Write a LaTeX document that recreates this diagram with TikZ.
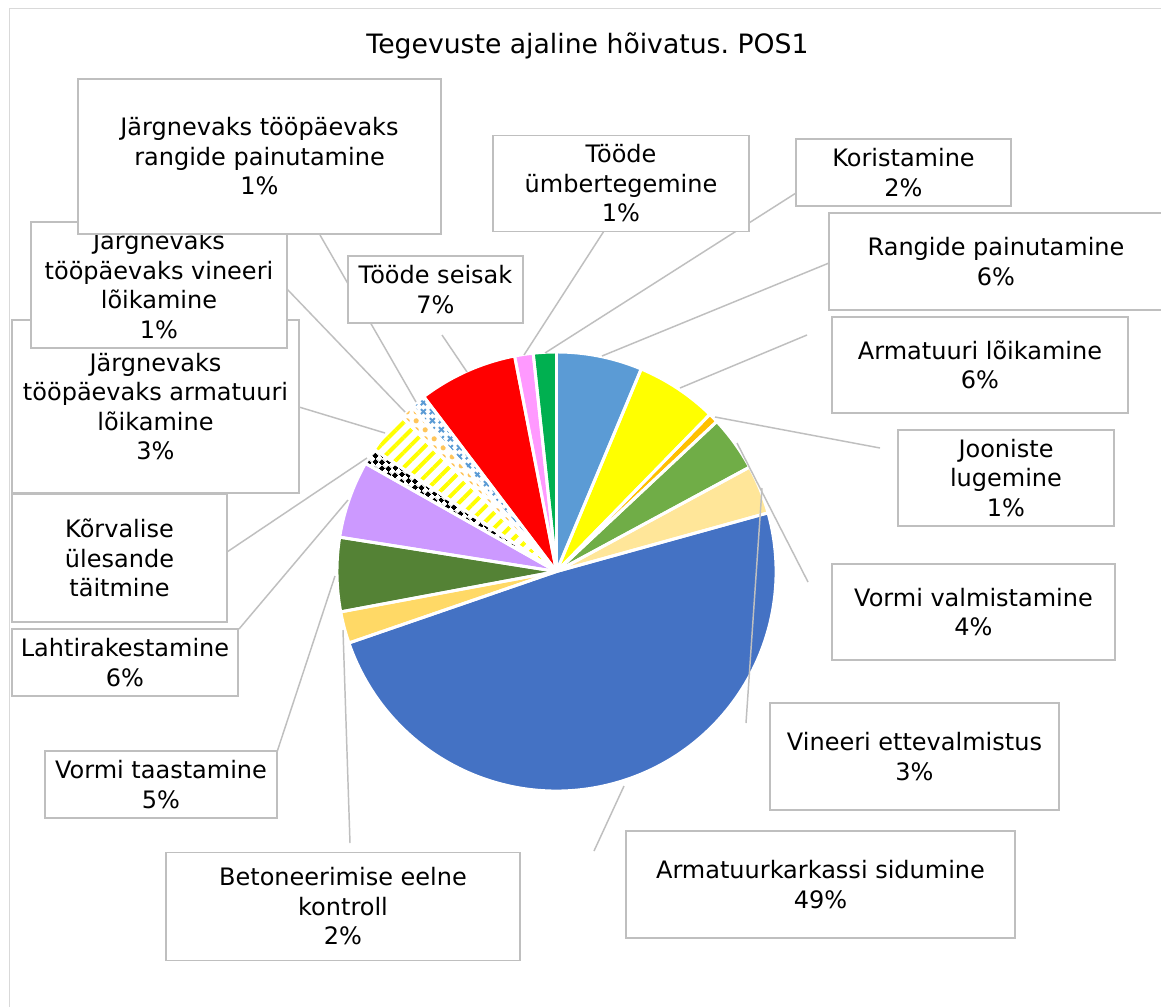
\documentclass[tikz,border=0pt]{standalone}
\usepackage{fontspec}
\setmainfont{DejaVu Sans}
\usetikzlibrary{patterns.meta}
\frenchspacing

\pgfdeclarepattern{
  name=xmarks,
  type=uncolored,
  bottom left={\pgfpoint{0pt}{0pt}},
  top right={\pgfpoint{7pt}{7pt}},
  tile size={\pgfpoint{7pt}{7pt}},
  code={
    \pgfsetlinewidth{1.5pt}
    \pgfpathmoveto{\pgfpoint{1.5pt}{1.5pt}}
    \pgfpathlineto{\pgfpoint{5.5pt}{5.5pt}}
    \pgfpathmoveto{\pgfpoint{1.5pt}{5.5pt}}
    \pgfpathlineto{\pgfpoint{5.5pt}{1.5pt}}
    \pgfusepath{stroke}
  }
}
\pgfdeclarepattern{
  name=diamondcheck,
  type=uncolored,
  bottom left={\pgfpoint{0pt}{0pt}},
  top right={\pgfpoint{7pt}{7pt}},
  tile size={\pgfpoint{7pt}{7pt}},
  tile transformation={\pgftransformrotate{45}},
  code={
    \pgfpathrectangle{\pgfpoint{0pt}{0pt}}{\pgfpoint{3.5pt}{3.5pt}}
    \pgfpathrectangle{\pgfpoint{3.5pt}{3.5pt}}{\pgfpoint{3.5pt}{3.5pt}}
    \pgfusepath{fill}
  }
}

\definecolor{boxgray}{HTML}{BFBFBF}
\definecolor{framegray}{HTML}{D9D9D9}
\definecolor{lblue}{HTML}{5B9BD5}
\definecolor{yel}{HTML}{FFFF00}
\definecolor{ora}{HTML}{FFC000}
\definecolor{grn}{HTML}{70AD47}
\definecolor{lyel}{HTML}{FFE699}
\definecolor{blu}{HTML}{4472C4}
\definecolor{gold}{HTML}{FFD966}
\definecolor{dgrn}{HTML}{548235}
\definecolor{lav}{HTML}{CC99FF}
\definecolor{redc}{HTML}{FF0000}
\definecolor{pinkc}{HTML}{FF99FF}
\definecolor{kgrn}{HTML}{00B050}
\definecolor{dotora}{HTML}{FFC55A}

\begin{document}
\begin{tikzpicture}[x=0.75pt,y=0.75pt,
  lbl/.style={font=\fontsize{18pt}{22.1pt}\selectfont, align=center},
  box/.style={lbl, draw=boxgray, line width=1.1pt, fill=white, inner sep=0pt},
  leader/.style={draw=boxgray, line width=1.1pt},
  slicebd/.style={draw=white, line width=2.2pt, line join=round}]
\useasboundingbox (0,0) rectangle (1161,-1007);
\fill[white] (0,0) rectangle (1161,-1007);
\draw[framegray, line width=1pt] (9.5,-1012) -- (9.5,-8.5) -- (1166,-8.5);

\node[font=\fontsize{20pt}{24pt}\selectfont, anchor=base] (title) at (587.5,-53) {Tegevuste ajaline hõivatus. POS1};

% pie
\coordinate (O) at (556.5,-571.5);
\foreach \a/\b/\c in {0/22.7/lblue, 22.7/44.3/yel, 44.3/46.9/ora, 46.9/61.6/grn,
  61.6/74.5/lyel, 74.5/251/blu, 251/259.4/gold, 259.4/279/dgrn, 279/299.5/lav,
  322.8/349/redc, 349/353.9/pinkc, 353.9/360/kgrn}
  {\fill[\c] (O) -- ++({90-\a}:219.5) arc[start angle={90-\a}, end angle={90-\b}, radius=219.5] -- cycle;}
% patterned slices
\fill[pattern=diamondcheck, pattern color=black] (O) -- ++({90-299.5}:219.5) arc[start angle={90-299.5}, end angle={90-303.8}, radius=219.5] -- cycle;
\fill[pattern={Lines[angle=45,distance=8pt,line width=3pt]}, pattern color=yel] (O) -- ++({90-303.8}:219.5) arc[start angle={90-303.8}, end angle={90-315}, radius=219.5] -- cycle;
\fill[pattern={Dots[distance=6.5pt,radius=2pt]}, pattern color=dotora] (O) -- ++({90-315}:219.5) arc[start angle={90-315}, end angle={90-318.8}, radius=219.5] -- cycle;
\fill[pattern=xmarks, pattern color=lblue] (O) -- ++({90-318.8}:219.5) arc[start angle={90-318.8}, end angle={90-322.8}, radius=219.5] -- cycle;
% slice borders
\foreach \a/\b in {0/22.7, 22.7/44.3, 44.3/46.9, 46.9/61.6, 61.6/74.5, 74.5/251,
  251/259.4, 259.4/279, 279/299.5, 299.5/303.8, 303.8/315, 315/318.8, 318.8/322.8,
  322.8/349, 349/353.9, 353.9/360}
  {\draw[slicebd] (O) -- ++({90-\a}:219.5) arc[start angle={90-\a}, end angle={90-\b}, radius=219.5] -- cycle;}

% leader line end points
\coordinate (a1) at (320,-235);   \coordinate (a2) at (416,-402);
\coordinate (b1) at (287,-289);   \coordinate (b2) at (405,-412);
\coordinate (c1) at (299,-407);   \coordinate (c2) at (385,-433);
\coordinate (d1) at (227,-552);   \coordinate (d2) at (367,-458);
\coordinate (e1) at (239,-629);   \coordinate (e2) at (348,-500);
\coordinate (f1) at (277,-752);   \coordinate (f2) at (335,-576);
\coordinate (g1) at (350,-843);   \coordinate (g2) at (343,-630);
\coordinate (k1) at (594,-851);   \coordinate (k2) at (624,-786);
\coordinate (v1) at (746,-723);   \coordinate (v2) at (762,-488);
\coordinate (m1) at (808,-582);   \coordinate (m2) at (737,-443);
\coordinate (j1) at (880,-448);   \coordinate (j2) at (715,-417);
\coordinate (l1) at (807,-335);   \coordinate (l2) at (680,-388);
\coordinate (r1) at (829,-263);   \coordinate (r2) at (602,-356);
\coordinate (o1) at (796,-193);   \coordinate (o2) at (545,-353);
\coordinate (u1) at (604,-231);   \coordinate (u2) at (524,-355);
\coordinate (s1) at (442,-335);   \coordinate (s2) at (467,-372);
\foreach \p in {a,b,c,d,e,f,g,k,v,m,j,l,r,o,u,s}
  {\draw[leader] (\p1) -- (\p2);}

% labels
\node[box, minimum width=215.25pt, minimum height=129.75pt] (C) at (155.5,-406.5) {Järgnevaks\\tööpäevaks armatuuri\\lõikamine\\3\%};
\node[box, minimum width=192pt, minimum height=94.5pt] (B) at (159,-285) {Järgnevaks\\tööpäevaks vineeri\\lõikamine\\1\%};
\node[box, minimum width=272.25pt, minimum height=116.25pt] (A) at (259.5,-156.5) {Järgnevaks tööpäevaks\\rangide painutamine\\1\%};
\node[box, minimum width=161.25pt, minimum height=96pt] (D) at (119.5,-558) {Kõrvalise\\ülesande\\täitmine};
\node[box, minimum width=169.5pt, minimum height=50.25pt] (E) at (125,-662.5) {Lahtirakestamine\\6\%};
\node[box, minimum width=174pt, minimum height=50.25pt] (F) at (161,-784.5) {Vormi taastamine\\5\%};
\node[box, minimum width=265.5pt, minimum height=81pt] (G) at (343,-906.5) {Betoneerimise eelne\\kontroll\\2\%};
\node[box, minimum width=291.75pt, minimum height=80.25pt] (K) at (820.5,-884.5) {Armatuurkarkassi sidumine\\49\%};
\node[box, minimum width=216.75pt, minimum height=80.25pt] (V) at (914.5,-756.5) {Vineeri ettevalmistus\\3\%};
\node[box, minimum width=212.25pt, minimum height=72pt] (M) at (973.5,-612) {Vormi valmistamine\\4\%};
\node[box, minimum width=162pt, minimum height=72pt] (J) at (1006,-478) {Jooniste\\lugemine\\1\%};
\node[box, minimum width=222pt, minimum height=72pt] (L) at (980,-365) {Armatuuri lõikamine\\6\%};
\node[box, minimum width=250.5pt, minimum height=72.75pt] (R) at (996,-261.5) {Rangide painutamine\\6\%};
\node[box, minimum width=161.25pt, minimum height=50.25pt] (Ko) at (903.5,-172.5) {Koristamine\\2\%};
\node[box, minimum width=192pt, minimum height=72pt] (U) at (621,-183.5) {Tööde\\ümbertegemine\\1\%};
\node[box, minimum width=131.25pt, minimum height=50.25pt] (S) at (435.5,-289.5) {Tööde seisak\\7\%};
\end{tikzpicture}
\end{document}
